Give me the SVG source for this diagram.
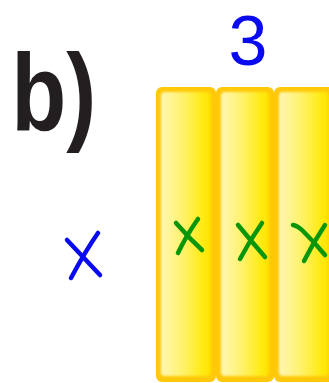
<svg xmlns="http://www.w3.org/2000/svg" width="329" height="383" viewBox="0 0 329 383">
  <style>
    .outer { fill: #FFC90A; }
    .inner { fill: url(#barGrad); }
    .blue { stroke: #0A0AF0; stroke-width: 4.5; stroke-linecap: round; fill: none; }
    .green { stroke: #0A960A; stroke-width: 4.5; stroke-linecap: round; fill: none; }
  </style>
  <defs>
    <linearGradient id="barGrad" x1="0" y1="0" x2="1" y2="0">
      <stop offset="0" stop-color="#FFF6B4"/>
      <stop offset="0.45" stop-color="#FFF26A"/>
      <stop offset="0.85" stop-color="#FFEA10"/>
      <stop offset="1" stop-color="#FFE000"/>
    </linearGradient>
    <filter id="soft" x="-10%" y="-10%" width="120%" height="120%">
      <feGaussianBlur stdDeviation="1"/>
    </filter>
  </defs>

  <rect width="329" height="383" fill="#FFFFFF"/>

  <g id="label-b">
    <text transform="translate(17,130) scale(0.82,1)" x="-7" y="0" font-family="Liberation Sans, Arial, sans-serif" font-weight="bold" font-size="110" fill="#231F20">b)</text>
  </g>

  <g id="label-3">
    <text x="248" y="65" text-anchor="middle" font-family="Liberation Sans, Arial, sans-serif" font-size="70" fill="#0A0AF0">3</text>
  </g>

  <g id="bar1">
    <rect class="outer" x="156" y="87" width="60" height="295" rx="6"/>
    <rect class="inner" x="161" y="92" width="50" height="284" rx="4" filter="url(#soft)"/>
  </g>
  <g id="bar2">
    <rect class="outer" x="216" y="87" width="58" height="295" rx="6"/>
    <rect class="inner" x="221" y="92" width="48" height="284" rx="4" filter="url(#soft)"/>
  </g>
  <g id="bar3">
    <rect class="outer" x="274" y="87" width="60" height="295" rx="6"/>
    <rect class="inner" x="279" y="92" width="50" height="284" rx="4" filter="url(#soft)"/>
  </g>

  <g id="mark-blue-x">
    <path class="blue" d="M67 240 Q84 258 100 275"/>
    <path class="blue" d="M98 233 Q86 250 71 278"/>
  </g>

  <g id="marks-green">
    <g id="green-x1">
      <path class="green" d="M176 223 Q189 238 202 250"/>
      <path class="green" d="M198 219 Q186 236 178 253"/>
    </g>
    <g id="green-x2">
      <path class="green" d="M238 225 Q252 242 265 257"/>
      <path class="green" d="M262 223 Q250 240 240 259"/>
    </g>
    <g id="green-x3">
      <path class="green" d="M293 225 Q298 226 303 231 Q315 243 325 255"/>
      <path class="green" d="M325 225 Q313 243 304 261"/>
    </g>
  </g>
</svg>
